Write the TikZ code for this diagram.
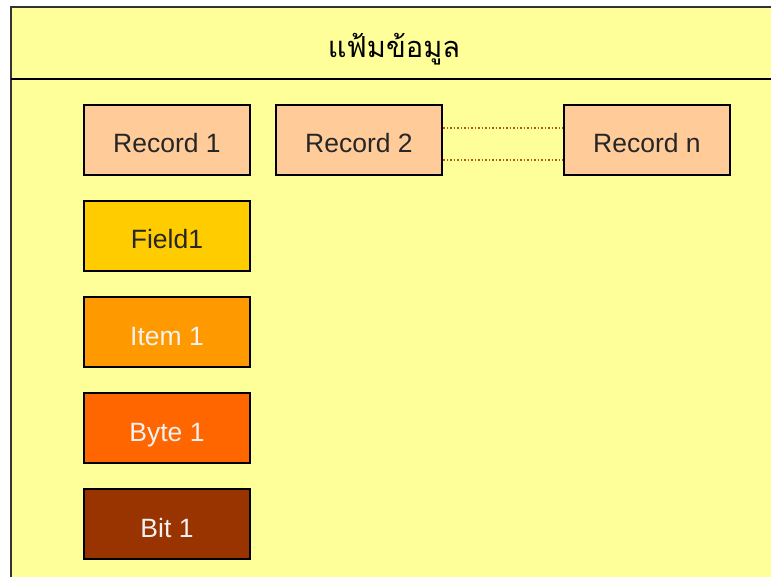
\documentclass[tikz,border=0pt]{standalone}
\usepackage{fontspec}
\setmainfont{Liberation Sans}
\newfontfamily\thaifont[Script=Thai]{Loma}
\usetikzlibrary{calc}
\definecolor{paneyellow}{HTML}{FFFF99}
\definecolor{recordfill}{HTML}{FFCC99}
\definecolor{fieldfill}{HTML}{FFCC00}
\definecolor{itemfill}{HTML}{FF9900}
\definecolor{bytefill}{HTML}{FF6600}
\definecolor{bitfill}{HTML}{993300}
\definecolor{dotlink}{HTML}{B25A14}
\tikzset{
  unitbox/.style={draw=black, line width=2pt, rectangle, minimum width=166pt,
    minimum height=70pt, inner sep=0pt, text height=26pt, text depth=0pt,
    font=\fontsize{26.5}{30}\selectfont},
  darktext/.style={text=black!85},
  lighttext/.style={text=white!95!black},
  linkline/.style={draw=dotlink, line width=1.3pt, dash pattern=on 1.5pt off 2pt},
}
\begin{document}
\begin{tikzpicture}[x=1pt, y=-1pt]
  \useasboundingbox (0,0) rectangle (771,577);
  % file pane with its title band
  \fill[paneyellow] (11,7) rectangle (772,578);
  \draw[line width=2pt, black!80] (11,580) -- (11,7) -- (773,7);
  \draw[line width=2.5pt] (11,79) -- (773,79);
  \node (title) at (394,49) {\thaifont\fontsize{29}{34}\selectfont แฟ้มข้อมูล};

  % records
  \node[unitbox, darktext, fill=recordfill] (r1) at (167,140) {Record 1};
  \node[unitbox, darktext, fill=recordfill] (r2) at (359,140) {Record 2};
  \node[unitbox, darktext, fill=recordfill] (rn) at (647,140) {Record n};

  % the hierarchy below a record
  \node[unitbox, darktext, fill=fieldfill] (field) at (167,236) {Field1};
  \node[unitbox, lighttext, fill=itemfill] (item) at (167,332) {Item 1};
  \node[unitbox, lighttext, fill=bytefill] (byte) at (167,428) {Byte 1};
  \node[unitbox, lighttext, fill=bitfill] (bit) at (167,524) {Bit 1};

  % dotted continuation between record 2 and record n
  \draw[linkline] ($(r2.north east)!0.333!(r2.south east)$) -- ($(rn.north west)!0.333!(rn.south west)$);
  \draw[linkline] ($(r2.north east)!0.778!(r2.south east)$) -- ($(rn.north west)!0.778!(rn.south west)$);
\end{tikzpicture}
\end{document}
